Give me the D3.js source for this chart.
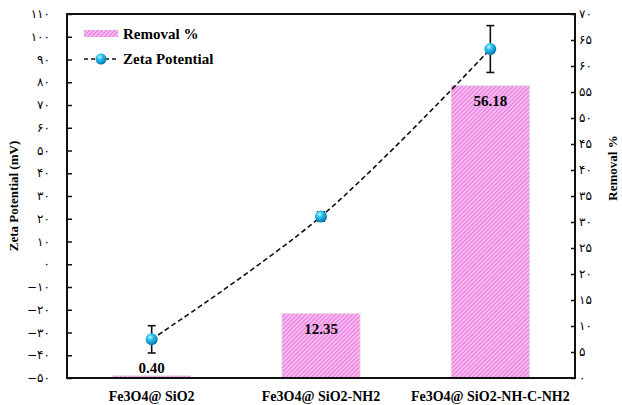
<!DOCTYPE html>
<html>
<head>
<meta charset="utf-8">
<script src="https://cdn.jsdelivr.net/npm/d3@7"></script>
<style>
  html, body { margin: 0; padding: 0; background: #fff; }
  svg { display: block; }
</style>
</head>
<body>
<svg id="chart" width="622" height="405"></svg>
<script>
// Samples
const categories = ["Fe3O4@ SiO2", "Fe3O4@ SiO2-NH2", "Fe3O4@ SiO2-NH-C-NH2"];
// Removal (%) – bars on the right axis
const removal = [0.40, 12.35, 56.18];
// Zeta potential (mV) with error – line on the left axis
const zeta = [-33, 21, 94.6];
const zetaErr = [6, 2, 10.3];
// Axis ticks
const leftTicks = d3.range(-50, 111, 10);
const rightTicks = d3.range(0, 71, 5);

const svg = d3.select("#chart");
const m = { left: 67, right: 575, top: 14, bottom: 378 };

const x = d3.scaleBand().domain(categories).range([m.left, m.right]).paddingInner(0.54).paddingOuter(0.27);
const yL = d3.scaleLinear().domain([-50, 110]).range([m.bottom, m.top]);
const yR = d3.scaleLinear().domain([0, 70]).range([m.bottom, m.top]);

// Persian digits for tick labels
const fa = "۰۱۲۳۴۵۶۷۸۹";
const toFa = v => (v < 0 ? "−" : "") + String(Math.abs(v)).replace(/\d/g, c => fa[+c]);

const defs = svg.append("defs");
const pat = defs.append("pattern")
  .attr("id", "hatch").attr("patternUnits", "userSpaceOnUse")
  .attr("width", 3).attr("height", 3).attr("patternTransform", "rotate(45)");
pat.append("rect").attr("width", 3).attr("height", 3).attr("fill", "#f9ccf4");
pat.append("rect").attr("width", 1.5).attr("height", 3).attr("fill", "#ea7ce0");

const grad = defs.append("radialGradient").attr("id", "ball")
  .attr("cx", "38%").attr("cy", "32%").attr("r", "70%");
grad.append("stop").attr("offset", "0%").attr("stop-color", "#c8f4ff");
grad.append("stop").attr("offset", "35%").attr("stop-color", "#2cc4f2");
grad.append("stop").attr("offset", "100%").attr("stop-color", "#0772a8");

// Bars
const bars = svg.append("g");
bars.selectAll("rect").data(removal).join("rect")
  .attr("x", (d, i) => x(categories[i]))
  .attr("width", x.bandwidth())
  .attr("y", d => yR(d))
  .attr("height", d => yR(0) - yR(d))
  .attr("fill", "url(#hatch)")
  .attr("stroke", "#dcc6da").attr("stroke-width", 0.8);

// Bar value labels
svg.append("g").selectAll("text").data(removal).join("text")
  .attr("x", (d, i) => x(categories[i]) + x.bandwidth() / 2)
  .attr("y", d => (yR(0) - yR(d) > 30 ? yR(d) + 20 : yR(d) - 3))
  .attr("text-anchor", "middle")
  .attr("font-family", "'Liberation Serif', 'Times New Roman', serif")
  .attr("font-weight", "bold").attr("font-size", 15)
  .text(d => d.toFixed(2));

// Zeta potential line
const pts = zeta.map((v, i) => [x(categories[i]) + x.bandwidth() / 2, yL(v)]);
svg.append("path")
  .attr("d", d3.line().curve(d3.curveCatmullRom.alpha(0.5))(pts))
  .attr("fill", "none").attr("stroke", "#111").attr("stroke-width", 1.6)
  .attr("stroke-dasharray", "5,3");

// Error bars
const eb = svg.append("g").attr("stroke", "#111").attr("stroke-width", 1.6);
zeta.forEach((v, i) => {
  const cx = x(categories[i]) + x.bandwidth() / 2;
  const y1 = yL(v + zetaErr[i]), y2 = yL(v - zetaErr[i]);
  eb.append("line").attr("x1", cx).attr("x2", cx).attr("y1", y1).attr("y2", y2);
  eb.append("line").attr("x1", cx - 4).attr("x2", cx + 4).attr("y1", y1).attr("y2", y1);
  eb.append("line").attr("x1", cx - 4).attr("x2", cx + 4).attr("y1", y2).attr("y2", y2);
});

// Markers
svg.append("g").selectAll("circle").data(pts).join("circle")
  .attr("cx", d => d[0]).attr("cy", d => d[1]).attr("r", 6)
  .attr("fill", "url(#ball)");

// Axes
const tickFont = "'DejaVu Sans', 'Noto Sans', sans-serif";
const gL = svg.append("g").attr("transform", `translate(${m.left},0)`)
  .call(d3.axisRight(yL).tickValues(leftTicks).tickSize(5).tickFormat(() => ""));
svg.append("g").selectAll("text").data(leftTicks).join("text")
  .attr("x", 50).attr("y", d => yL(d) + 4)
  .attr("text-anchor", "end")
  .attr("font-family", tickFont).attr("font-size", 12).attr("fill", "#000")
  .text(d => toFa(d));

const gR = svg.append("g").attr("transform", `translate(${m.right},0)`)
  .call(d3.axisLeft(yR).tickValues(rightTicks).tickSize(4).tickFormat(() => ""));
svg.append("g").selectAll("text").data(rightTicks).join("text")
  .attr("x", 579).attr("y", d => yR(d) + 4)
  .attr("text-anchor", "start")
  .attr("font-family", tickFont).attr("font-size", 12).attr("fill", "#000")
  .text(d => toFa(d));

[gL, gR].forEach(g => {
  g.select(".domain").remove();
  g.selectAll("line").attr("stroke", "#111").attr("stroke-width", 1.5);
});

// Frame
svg.append("rect")
  .attr("x", m.left).attr("y", m.top)
  .attr("width", m.right - m.left).attr("height", m.bottom - m.top)
  .attr("fill", "none").attr("stroke", "#111").attr("stroke-width", 2);

// Category labels
const serif = "'Liberation Serif', 'Times New Roman', serif";
svg.append("g").selectAll("text").data(categories).join("text")
  .attr("x", d => x(d) + x.bandwidth() / 2).attr("y", 401)
  .attr("text-anchor", "middle")
  .attr("font-family", serif)
  .attr("font-weight", "bold").attr("font-size", 14)
  .text(d => d);

// Axis titles
svg.append("text")
  .attr("transform", "translate(18,196) rotate(-90)")
  .attr("text-anchor", "middle").attr("font-family", serif)
  .attr("font-weight", "bold").attr("font-size", 13)
  .text("Zeta Potential (mV)");
svg.append("text")
  .attr("transform", "translate(617,168) rotate(-90)")
  .attr("text-anchor", "middle").attr("font-family", serif)
  .attr("font-weight", "bold").attr("font-size", 13)
  .text("Removal %");

// Legend
const lg = svg.append("g");
lg.append("rect").attr("x", 84).attr("y", 30).attr("width", 34).attr("height", 7)
  .attr("fill", "url(#hatch)");
lg.append("text").attr("x", 123).attr("y", 39)
  .attr("font-family", serif).attr("font-weight", "bold").attr("font-size", 15)
  .text("Removal %");
lg.append("line").attr("x1", 84).attr("x2", 118).attr("y1", 59).attr("y2", 59)
  .attr("stroke", "#111").attr("stroke-width", 1.6).attr("stroke-dasharray", "4,3");
lg.append("circle").attr("cx", 101).attr("cy", 59).attr("r", 5.5).attr("fill", "url(#ball)");
lg.append("text").attr("x", 123).attr("y", 64)
  .attr("font-family", serif).attr("font-weight", "bold").attr("font-size", 15)
  .text("Zeta Potential");
</script>
</body>
</html>
